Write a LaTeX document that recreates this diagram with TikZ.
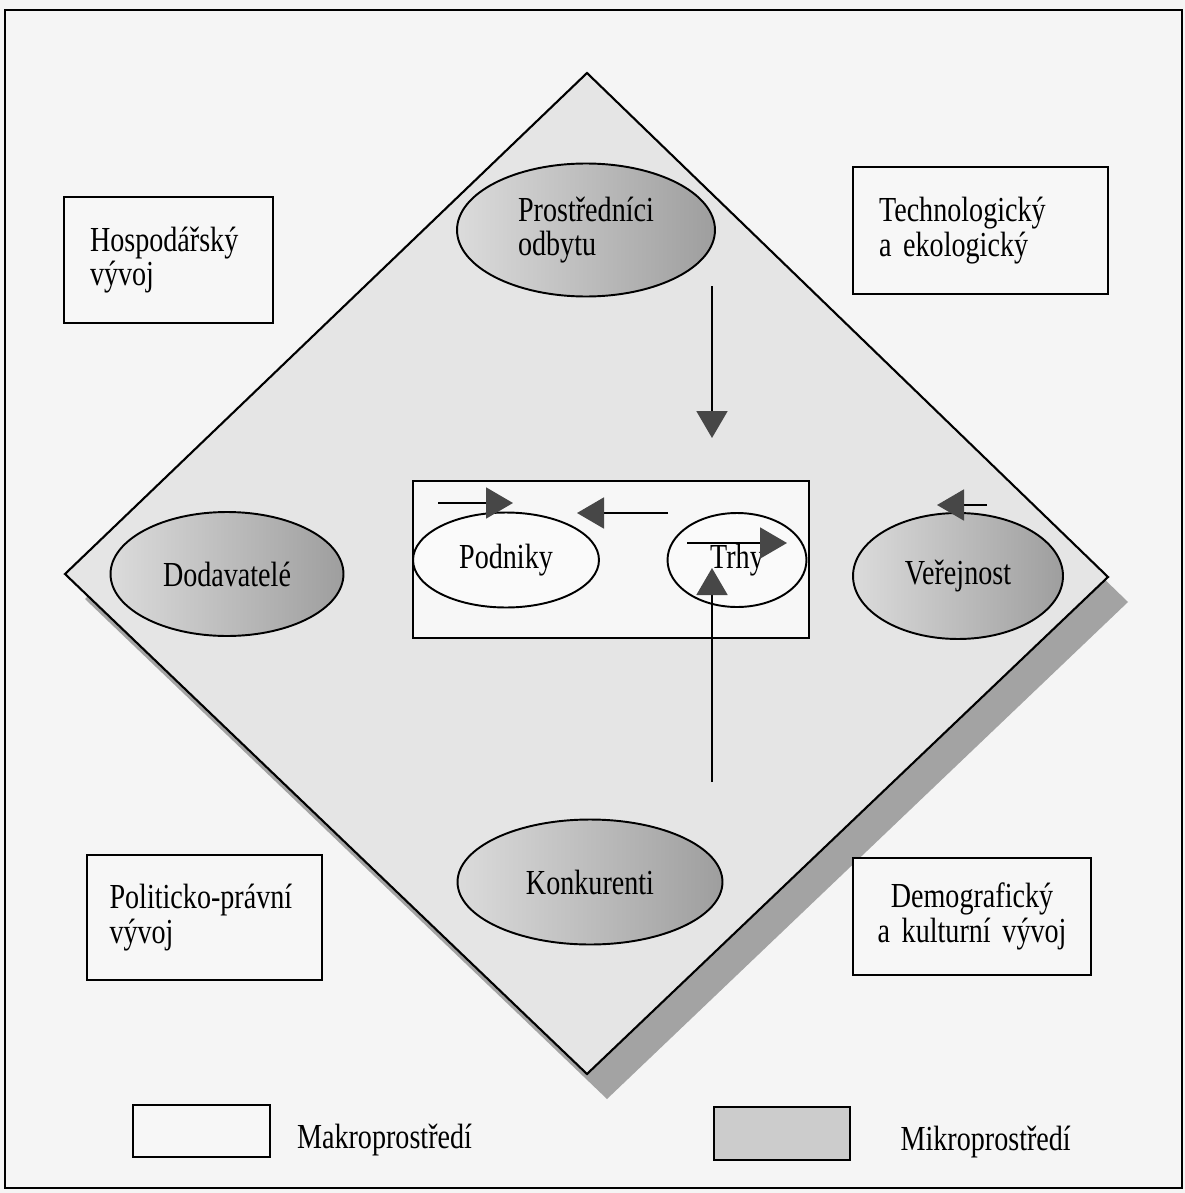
\documentclass[tikz,border=0pt]{standalone}
\usepackage{fontspec}
\setmainfont{Liberation Serif}[FakeStretch=0.8]
\usetikzlibrary{positioning,arrows.meta,shapes.geometric}
\newcommand\diafont{\fontsize{20}{19.5}\selectfont\spaceskip=3.6pt plus 1pt minus 1pt\relax}

\begin{document}
\begin{tikzpicture}[
  x=0.02cm, y=-0.02cm,
  font=\diafont,
  makro/.style={draw, rectangle, line width=1.2pt, fill=black!3, align=left, inner xsep=0.52cm},
  mikro/.style={draw, ellipse, line width=1.1pt, left color=black!14, right color=black!38, inner sep=0pt},
  firma/.style={draw, ellipse, line width=1.1pt, fill=black!2, inner sep=0pt},
  legbox/.style={draw, rectangle, line width=1.3pt, minimum width=2.73cm, minimum height=1.05cm},
  >={Triangle[length=5.4mm, width=6.2mm, color=black!72]},
  flow/.style={->, line width=1.1pt}
]
% page and frame
\fill[black!4] (0,0) rectangle (1185,1193);
\draw[line width=0.9pt] (5,10) rectangle (1182,1188);

% diamond with shadow
\coordinate (top) at (587,73);
\coordinate (right) at (1108,577);
\coordinate (bottom) at (587,1074);
\coordinate (left) at (65,574);
\fill[black!36] (607,98) -- (1128,602) -- (607,1099) -- (85,599) -- cycle;
\draw[line width=1.2pt, fill=black!10] (top) -- (right) -- (bottom) -- (left) -- cycle;

% micro environment
\node[mikro, align=left, minimum width=5.16cm, minimum height=2.66cm] (prost) at (586,230) {Prostředníci\\odbytu};
\node[mikro, minimum width=4.66cm, minimum height=2.48cm] (dod) at (227,574) {Dodavatelé};
\node[mikro, minimum width=4.2cm, minimum height=2.52cm] (ver) at (958,576) {Veřejnost};
\node[mikro, minimum width=5.3cm, minimum height=2.5cm] (konk) at (590,882) {Konkurenti};

% core
\node[draw, line width=1.2pt, fill=black!3, minimum width=7.92cm, minimum height=3.14cm] (jadro) at (611,559.5) {};
\node[firma, minimum width=3.72cm, minimum height=1.9cm] (podn) at (506,560) {Podniky};
\node[firma, minimum width=2.78cm, minimum height=1.88cm] (trhy) at (737,560) {Trhy};

% arrows
\coordinate (p1) at (438,503); \coordinate (p2) at (513,503);
\coordinate (q1) at (668,513); \coordinate (q2) at (577,513);
\coordinate (r1) at (687,543); \coordinate (r2) at (787,543);
\coordinate (s1) at (712,782); \coordinate (s2) at (712,568);
\coordinate (t1) at (712,286); \coordinate (t2) at (712,438);
\coordinate (u1) at (987,505); \coordinate (u2) at (937,505);
\draw[flow] (p1) -- (p2);
\draw[flow] (q1) -- (q2);
\draw[flow] (r1) -- (r2);
\draw[flow] (s1) -- (s2);
\draw[flow] (t1) -- (t2);
\draw[flow] (u1) -- (u2);

% macro environment
\node[makro, text width=3.14cm, minimum height=2.52cm] (hosp) at (168.5,260) {Hospodářský\\vývoj};
\node[makro, text width=4.06cm, minimum height=2.54cm] (tech) at (980.5,230.5) {Technologický\\a ekologický};
\node[makro, inner xsep=0.45cm, text width=3.8cm, minimum height=2.5cm] (polit) at (204.5,917.5) {Politicko-právní\\vývoj};
\node[makro, align=center, inner xsep=0.35cm, text width=4.06cm, minimum height=2.34cm] (demo) at (972,916.5) {Demografický\\a kulturní vývoj};

% legend
\node[legbox, fill=black!3] (lmakro) at (201.5,1131) {};
\node[right=0.4cm of lmakro, yshift=-0.18cm] (tmakro) {Makroprostředí};
\node[legbox, fill=black!20] (lmikro) at (782,1133.5) {};
\node[right=0.86cm of lmikro, yshift=-0.18cm] (tmikro) {Mikroprostředí};
\end{tikzpicture}
\end{document}
